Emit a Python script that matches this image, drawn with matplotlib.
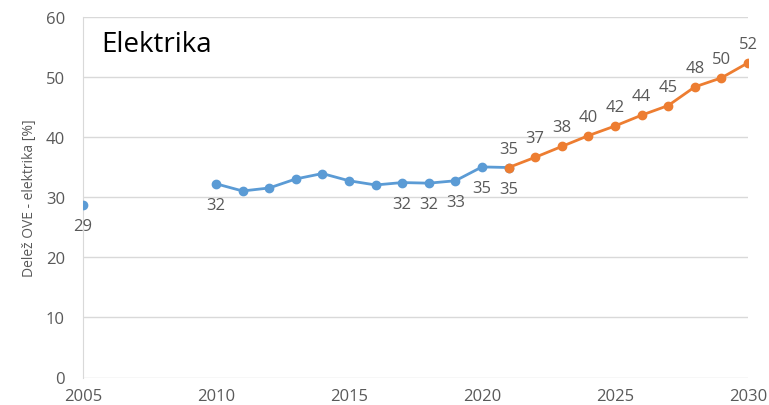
import matplotlib
matplotlib.use("Agg")
import matplotlib.pyplot as plt

hist_years = [2005, 2010, 2011, 2012, 2013, 2014, 2015, 2016, 2017, 2018, 2019, 2020, 2021]
hist_vals = [28.7, 32.2, 31.0, 31.5, 33.0, 33.9, 32.7, 32.0, 32.4, 32.3, 32.7, 35.0, 34.9]
hist_labels = {2005: "29", 2010: "32", 2017: "32", 2018: "32", 2019: "33", 2020: "35", 2021: "35"}

proj_years = [2021, 2022, 2023, 2024, 2025, 2026, 2027, 2028, 2029, 2030]
proj_vals = [34.9, 36.6, 38.4, 40.2, 41.8, 43.6, 45.2, 48.3, 49.8, 52.3]
proj_labels = ["35", "37", "38", "40", "42", "44", "45", "48", "50", "52"]

x_ticks = [2005, 2010, 2015, 2020, 2025, 2030]
y_ticks = [0, 10, 20, 30, 40, 50, 60]

plt.rcParams['font.family'] = ['Open Sans', 'DejaVu Sans']
blue = "#5B9BD5"
orange = "#ED7D31"
txt = "#595959"

fig = plt.figure(figsize=(7.69, 4.06), dpi=100)
ax = fig.add_axes([83/769, 27.5/406, (748-83)/769, (378.5-17.5)/406])

ax.plot(hist_years[:1], hist_vals[:1], 'o', color=blue, markersize=6, zorder=3)
ax.plot(hist_years[1:], hist_vals[1:], '-o', color=blue, lw=2, markersize=6, zorder=3)
ax.plot(proj_years, proj_vals, '-o', color=orange, lw=2, markersize=6, zorder=4)

for yr, v in zip(hist_years, hist_vals):
    if yr in hist_labels:
        ax.annotate(hist_labels[yr], (yr, v), xytext=(0, -21), textcoords='offset pixels',
                    ha='center', va='center', fontsize=12, color=txt)
for yr, v, l in zip(proj_years, proj_vals, proj_labels):
    ax.annotate(l, (yr, v), xytext=(0, 19), textcoords='offset pixels',
                ha='center', va='center', fontsize=12, color=txt)

ax.set_xlim(2005, 2030)
ax.set_ylim(0, 60)
ax.set_xticks(x_ticks)
ax.set_yticks(y_ticks)
ax.tick_params(length=0, labelsize=12, labelcolor=txt)
ax.tick_params(axis='y', pad=13)
ax.tick_params(axis='x', pad=7.5)
ax.grid(axis='y', color="#D9D9D9", lw=1)
ax.set_axisbelow(True)
for s in ['top', 'right', 'bottom']:
    ax.spines[s].set_visible(False)
ax.spines['left'].set_color("#D9D9D9")
ax.set_ylabel("Delež OVE - elektrika [%]", fontsize=10, color=txt, labelpad=6)

ax.text(101/769, (406-45)/406, "Elektrika", transform=fig.transFigure, fontsize=20,
        color="black", ha='left', va='center')

fig.savefig("out.png", dpi=100)
